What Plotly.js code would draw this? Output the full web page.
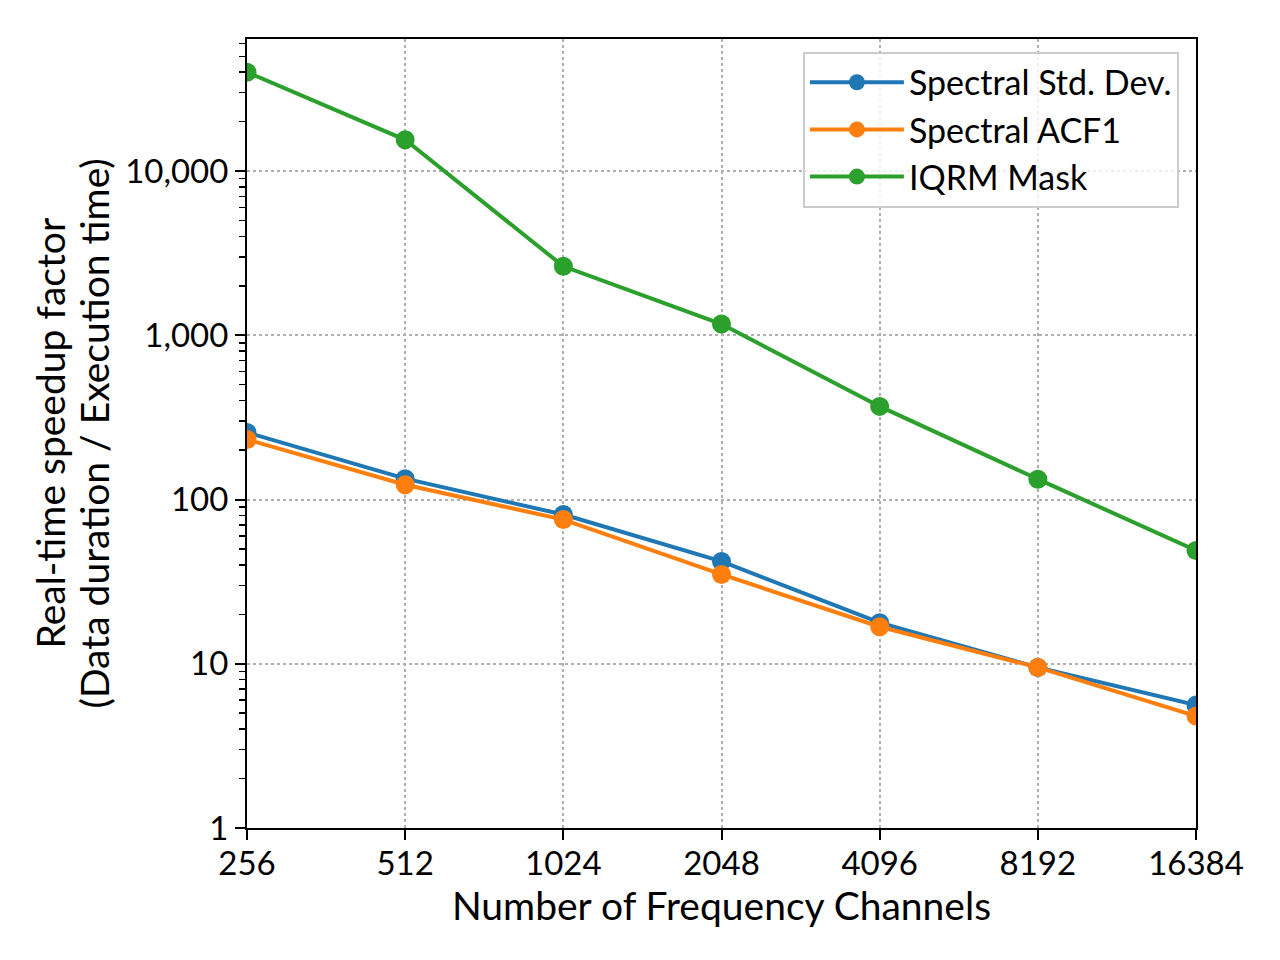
<!DOCTYPE html>
<html>
<head>
<meta charset="utf-8">
<script src="https://cdn.plot.ly/plotly-3.0.1.min.js"></script>
<style>
  body { margin: 0; background: #fff; }
  #chart { width: 1280px; height: 960px; }
</style>
</head>
<body>
<div id="chart"></div>
<script>
// Number of frequency channels
var channels = [256, 512, 1024, 2048, 4096, 8192, 16384];
var channelLabels = ['256', '512', '1024', '2048', '4096', '8192', '16384'];

// Real-time speedup factors
var stdDevSpeedup = [256, 134, 81, 42, 17.8, 9.5, 5.6];
var acf1Speedup = [232, 123, 75.5, 35, 16.8, 9.5, 4.8];
var iqrmSpeedup = [40000, 15500, 2630, 1170, 369, 133, 49];

var yTicks = [1, 10, 100, 1000, 10000];
var yTickLabels = ['1', '10', '100', '1,000', '10,000'];

// y label, one line per entry (matplotlib-style tighter line spacing)
var yLabelLines = ['Real-time speedup factor', '(Data duration / Execution time)'];

var blue = '#1f77b4';
var orange = '#ff7f0e';
var green = '#2ca02c';

function series(y, name, color) {
    return {
        x: channels,
        y: y,
        name: name,
        type: 'scatter',
        mode: 'lines+markers',
        line: {color: color, width: 4},
        marker: {color: color, size: 19},
        cliponaxis: true
    };
}

var traces = [
    series(stdDevSpeedup, 'Spectral Std. Dev.', blue),
    series(acf1Speedup, 'Spectral ACF1', orange),
    series(iqrmSpeedup, 'IQRM Mask', green)
];

var axisCommon = {
    showline: true,
    linecolor: 'black',
    linewidth: 2,
    mirror: true,
    ticks: 'outside',
    ticklen: 10,
    tickwidth: 2,
    tickcolor: 'black',
    showgrid: true,
    gridcolor: '#b0b0b0',
    gridwidth: 2,
    griddash: 'dot',
    zeroline: false,
    tickfont: {size: 33, color: 'black'}
};

// plot area is 949 px wide starting at x=247, so place the y-label lines in paper units
var plotLeft = 247, plotWidth = 949;
var yLabelAnnotations = yLabelLines.map(function (txt, i) {
    var px = [49, 93][i];
    return {
        text: txt,
        xref: 'paper', yref: 'paper',
        x: (px - plotLeft) / plotWidth, y: 0.5,
        xanchor: 'center', yanchor: 'middle',
        textangle: -90,
        showarrow: false,
        font: {size: 39, color: 'black'}
    };
});

var layout = {
    width: 1280,
    height: 960,
    paper_bgcolor: 'white',
    plot_bgcolor: 'white',
    font: {family: 'Lato, "Open Sans", sans-serif', color: 'black'},
    margin: {l: 247, r: 84, t: 39, b: 132},
    showlegend: true,
    legend: {
        x: 0.982, y: 0.984,
        xanchor: 'right', yanchor: 'top',
        bgcolor: 'rgba(255,255,255,0.8)',
        bordercolor: '#cccccc',
        borderwidth: 2,
        itemwidth: 94,
        font: {size: 34, color: 'black'},
        tracegroupgap: 0
    },
    annotations: yLabelAnnotations,
    xaxis: Object.assign({}, axisCommon, {
        type: 'log',
        range: [Math.log10(256), Math.log10(16384)],
        tickmode: 'array',
        tickvals: channels,
        ticktext: channelLabels,
        ticklabelstandoff: -5,
        title: {text: 'Number of Frequency Channels', font: {size: 39}, standoff: 0}
    }),
    yaxis: Object.assign({}, axisCommon, {
        type: 'log',
        range: [0, 4.804],
        tickmode: 'array',
        tickvals: yTicks,
        ticktext: yTickLabels,
        minor: {
            dtick: 'D1',
            ticks: 'outside',
            ticklen: 6,
            tickwidth: 1.5,
            tickcolor: 'black',
            showgrid: false
        }
    })
};

Plotly.newPlot('chart', traces, layout, {staticPlot: true});
</script>
</body>
</html>
